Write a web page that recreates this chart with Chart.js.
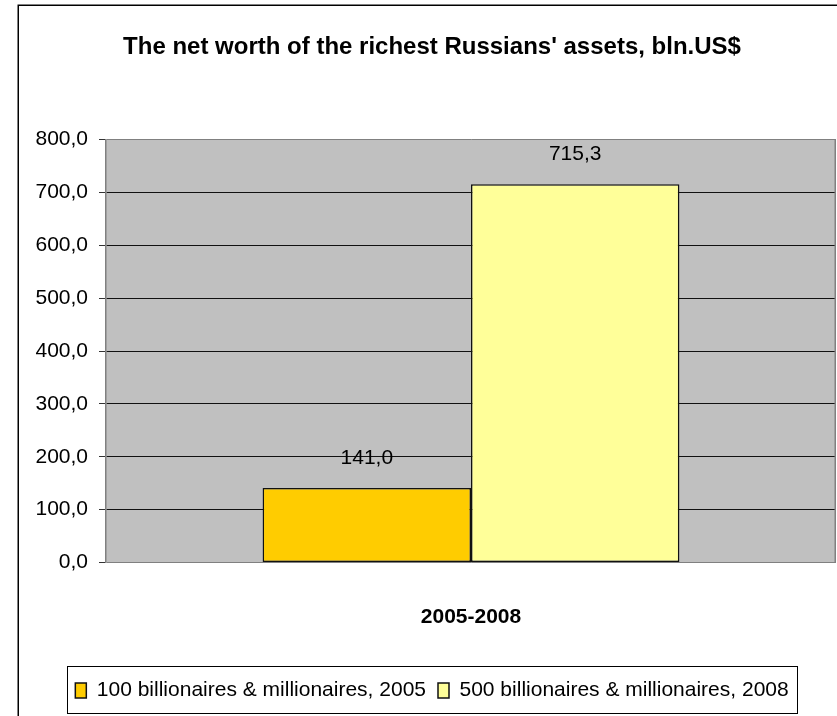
<!DOCTYPE html>
<html><head><meta charset="utf-8">
<script src="https://cdn.jsdelivr.net/npm/chart.js@4.4.0/dist/chart.umd.min.js"></script>
<style>html,body{margin:0;padding:0;background:#fff;}canvas{display:block;}</style>
</head><body>
<canvas id="c" width="837" height="716"></canvas>
<script>
const titleText = "The net worth of the richest Russians' assets, bln.US$";
const categories = ['2005-2008'];
const seriesLabels = ['100 billionaires & millionaires, 2005', '500 billionaires & millionaires, 2008'];
const values2005 = [141.0];
const values2008 = [715.3];
const yMin = 0, yMax = 800, yStep = 100;

const FONT = "'Liberation Sans', Arial, sans-serif";
const fmt = v => Number(v).toFixed(1).replace('.', ',');

const decor = {
  id: 'decor',
  beforeDraw(chart) {
    const { ctx, chartArea: a } = chart;
    ctx.save();
    ctx.fillStyle = '#fff';
    ctx.fillRect(0, 0, chart.width, chart.height);
    ctx.fillStyle = '#C0C0C0';
    ctx.fillRect(a.left, a.top, a.right - a.left, a.bottom - a.top);
    ctx.restore();
  },
  afterDraw(chart) {
    const { ctx, chartArea: a } = chart;
    ctx.save();
    ctx.strokeStyle = '#808080';
    ctx.lineWidth = 1.5;
    ctx.beginPath();
    ctx.moveTo(a.right - 0.75, a.top);
    ctx.lineTo(a.right - 0.75, a.bottom);
    ctx.stroke();
    ctx.strokeStyle = '#000';
    ctx.lineWidth = 1.5;
    ctx.strokeRect(18.25, 5.25, 2000, 2000);
    const hb = chart.legend.legendHitBoxes;
    if (hb && hb.length) {
      const l = hb[0].left - 8;
      const last = hb[hb.length - 1];
      const r = last.left + last.width + 9;
      const cy = hb[0].top + hb[0].height / 2;
      ctx.strokeStyle = '#000';
      ctx.lineWidth = 1;
      ctx.strokeRect(Math.round(l) + 0.5, Math.round(cy - 25) + 0.5, Math.round(r - l), 47);
    }
    ctx.restore();
  }
};

const valueLabels = {
  id: 'valueLabels',
  afterDatasetsDraw(chart) {
    const ctx = chart.ctx;
    ctx.save();
    ctx.font = '21px ' + FONT;
    ctx.fillStyle = '#000';
    ctx.textAlign = 'center';
    ctx.textBaseline = 'alphabetic';
    chart.data.datasets.forEach((ds, i) => {
      const meta = chart.getDatasetMeta(i);
      meta.data.forEach((el, j) => {
        ctx.fillText(fmt(ds.data[j]), el.x, el.y - 24);
      });
    });
    ctx.restore();
  }
};

new Chart(document.getElementById('c'), {
  type: 'bar',
  data: {
    labels: categories,
    datasets: [
      { label: seriesLabels[0], data: values2005, backgroundColor: '#FFCC00', borderColor: '#111', borderWidth: 1.5, borderSkipped: false },
      { label: seriesLabels[1], data: values2008, backgroundColor: '#FFFF99', borderColor: '#111', borderWidth: 1.5, borderSkipped: false }
    ]
  },
  options: {
    responsive: false,
    animation: false,
    layout: { padding: { left: 28, right: 1, top: 0, bottom: 5 } },
    datasets: { bar: { categoryPercentage: 0.571, barPercentage: 1.0 } },
    plugins: {
      title: {
        display: true, text: titleText, color: '#000',
        font: { family: FONT, size: 24, weight: 'bold' },
        padding: { top: 33, bottom: 77.7 }
      },
      legend: {
        position: 'bottom',
        labels: { boxWidth: 11, boxHeight: 15, padding: 12, color: '#000', font: { family: FONT, size: 21 } }
      },
      tooltip: { enabled: false }
    },
    scales: {
      x: {
        grid: { display: false, drawTicks: false },
        border: { display: false },
        ticks: { color: '#000', padding: 42, font: { family: FONT, size: 21, weight: 'bold' } },
        afterFit(s) { s.height = 105.5; }
      },
      y: {
        min: yMin, max: yMax,
        ticks: { stepSize: yStep, callback: v => fmt(v), color: '#000', padding: 11, font: { family: FONT, size: 21 } },
        grid: {
          color: c => (c.tick && (c.tick.value === yMin || c.tick.value === yMax)) ? '#808080' : '#111',
          tickColor: '#333', tickLength: 7, lineWidth: 1
        },
        border: { color: '#808080', width: 1.5 },
        afterFit(s) { s.width = 78; }
      }
    }
  },
  plugins: [decor, valueLabels]
});
</script>
</body></html>
